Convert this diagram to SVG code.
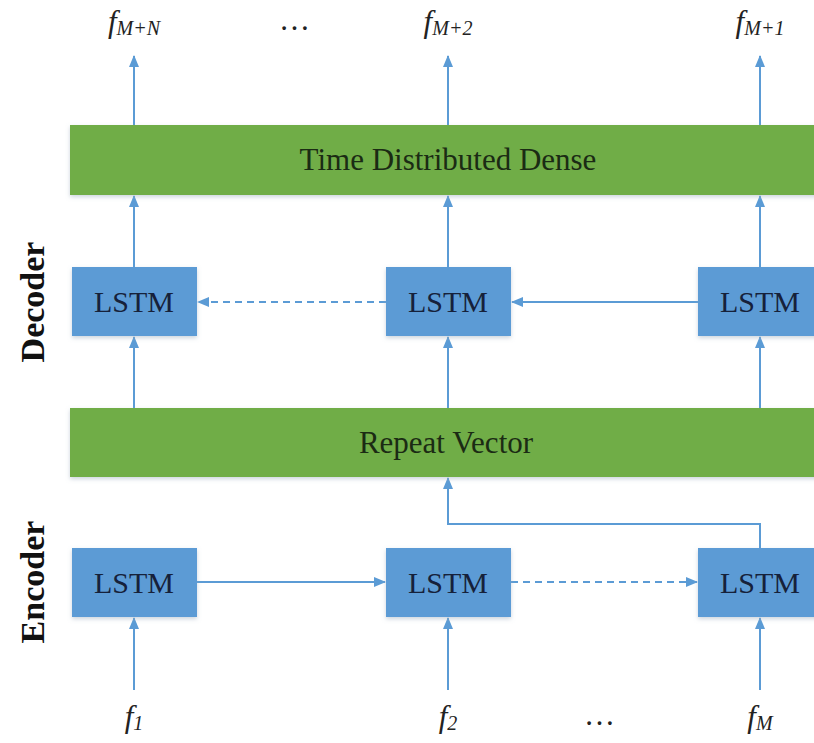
<svg xmlns="http://www.w3.org/2000/svg" width="814" height="743" viewBox="0 0 814 743">
<defs>
<marker id="ah" viewBox="0 0 12 10" refX="11" refY="5" markerWidth="12" markerHeight="10" markerUnits="userSpaceOnUse" orient="auto">
<path d="M0,0 L12,5 L0,10 z" fill="#5B9BD5"/>
</marker>
<filter id="sh" x="-5%" y="-10%" width="110%" height="130%">
<feDropShadow dx="0" dy="2" stdDeviation="2" flood-color="#9ab" flood-opacity="0.5"/>
</filter>
<style>
.box{fill:#5B9BD5;filter:url(#sh)}
.bar{fill:#70AD47;filter:url(#sh)}
.t{font-family:"Liberation Serif",serif;font-size:30px;fill:#16213a;text-anchor:middle}
.tg{font-family:"Liberation Serif",serif;font-size:31px;fill:#1b2b14;text-anchor:middle}
.lab{font-family:"Liberation Serif",serif;font-size:31px;font-style:italic;fill:#222;text-anchor:middle}
.sub{font-size:20px}
.side{font-family:"Liberation Serif",serif;font-size:34px;font-weight:bold;fill:#111;text-anchor:middle}
.c{stroke:#5B9BD5;stroke-width:2;fill:none}
.d{stroke-dasharray:7,5}
</style>
</defs>
<g id="connectors">
<line class="c" x1="134" y1="125" x2="134" y2="56" marker-end="url(#ah)"/>
<line class="c" x1="448" y1="125" x2="448" y2="56" marker-end="url(#ah)"/>
<line class="c" x1="760" y1="125" x2="760" y2="56" marker-end="url(#ah)"/>
<line class="c" x1="134" y1="268" x2="134" y2="196" marker-end="url(#ah)"/>
<line class="c" x1="448" y1="268" x2="448" y2="196" marker-end="url(#ah)"/>
<line class="c" x1="760" y1="268" x2="760" y2="196" marker-end="url(#ah)"/>
<line class="c" x1="134" y1="408" x2="134" y2="337" marker-end="url(#ah)"/>
<line class="c" x1="448" y1="408" x2="448" y2="337" marker-end="url(#ah)"/>
<line class="c" x1="760" y1="408" x2="760" y2="337" marker-end="url(#ah)"/>
<line class="c" x1="698" y1="302" x2="512" y2="302" marker-end="url(#ah)"/>
<line class="c d" x1="386" y1="302" x2="198" y2="302" marker-end="url(#ah)"/>
<polyline class="c" points="760,548 760,524 448,524 448,478" marker-end="url(#ah)"/>
<line class="c" x1="197" y1="582" x2="385" y2="582" marker-end="url(#ah)"/>
<line class="c d" x1="511" y1="582" x2="697" y2="582" marker-end="url(#ah)"/>
<line class="c" x1="134" y1="690" x2="134" y2="618" marker-end="url(#ah)"/>
<line class="c" x1="448" y1="690" x2="448" y2="618" marker-end="url(#ah)"/>
<line class="c" x1="760" y1="690" x2="760" y2="618" marker-end="url(#ah)"/>
</g>
<g id="dense"><rect class="bar" x="70" y="125" width="750" height="70"/><text class="tg" x="448" y="170">Time Distributed Dense</text></g>
<g id="repeat"><rect class="bar" x="70" y="408" width="750" height="69"/><text class="tg" x="446" y="453">Repeat Vector</text></g>
<g id="dec1"><rect class="box" x="72" y="267" width="125" height="69"/><text class="t" x="134" y="312">LSTM</text></g>
<g id="dec2"><rect class="box" x="386" y="267" width="125" height="69"/><text class="t" x="448" y="312">LSTM</text></g>
<g id="dec3"><rect class="box" x="698" y="267" width="125" height="69"/><text class="t" x="760" y="312">LSTM</text></g>
<g id="enc1"><rect class="box" x="72" y="548" width="125" height="69"/><text class="t" x="134" y="593">LSTM</text></g>
<g id="enc2"><rect class="box" x="386" y="548" width="125" height="69"/><text class="t" x="448" y="593">LSTM</text></g>
<g id="enc3"><rect class="box" x="698" y="548" width="125" height="69"/><text class="t" x="760" y="593">LSTM</text></g>
<g id="labels">
<text class="lab" x="134" y="32">f<tspan class="sub" dy="3">M+N</tspan></text>
<text class="lab" x="295" y="30">…</text>
<text class="lab" x="448" y="32">f<tspan class="sub" dy="3">M+2</tspan></text>
<text class="lab" x="760" y="32">f<tspan class="sub" dy="3">M+1</tspan></text>
<text class="lab" x="134" y="727">f<tspan class="sub" dy="3">1</tspan></text>
<text class="lab" x="448" y="727">f<tspan class="sub" dy="3">2</tspan></text>
<text class="lab" x="600" y="725">…</text>
<text class="lab" x="760" y="727">f<tspan class="sub" dy="3">M</tspan></text>
<text class="side" transform="translate(44,302) rotate(-90)">Decoder</text>
<text class="side" transform="translate(44,582) rotate(-90)">Encoder</text>
</g>
</svg>
